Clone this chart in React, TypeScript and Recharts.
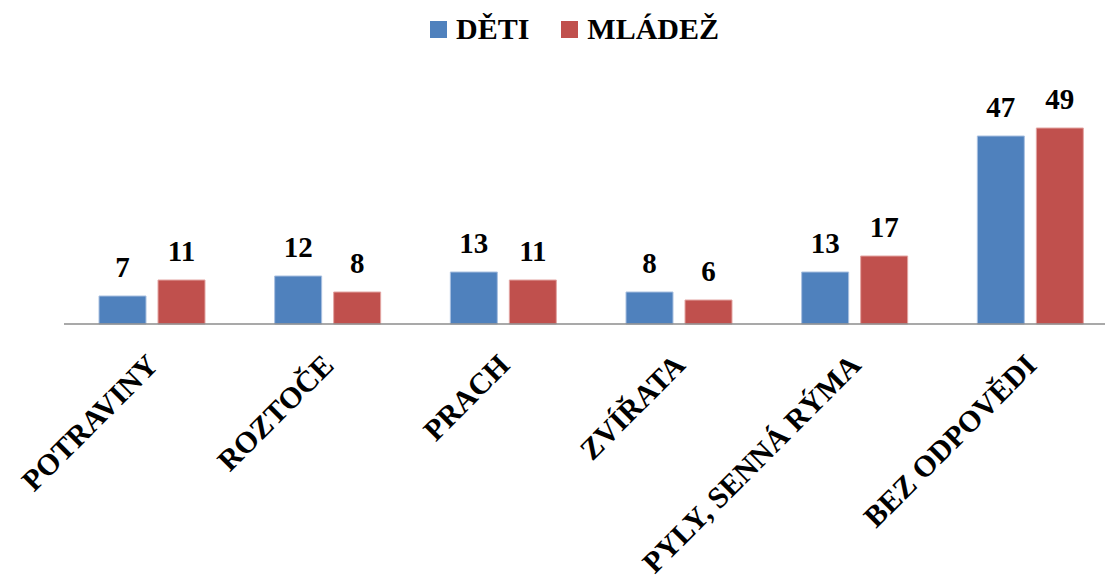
import { BarChart, Bar, XAxis, YAxis, LabelList } from "recharts";

const categories = ["POTRAVINY", "ROZTOČE", "PRACH", "ZVÍŘATA", "PYLY, SENNÁ RÝMA", "BEZ ODPOVĚDI"];
const deti = [7, 12, 13, 8, 13, 47];
const mladez = [11, 8, 11, 6, 17, 49];

const series = [
  { key: "deti", name: "DĚTI", color: "#4F81BD", edge: "#A9C0E0" },
  { key: "mladez", name: "MLÁDEŽ", color: "#C0504D", edge: "#E3A5A3" },
];

const data = categories.map((name, i) => ({ name, deti: deti[i], mladez: mladez[i] }));

const FONT = "'Liberation Serif'";

const CategoryTick = ({ x, y, payload }: any) => (
  <g transform={`translate(${x + 8},${y + 35})`}>
    <text
      textAnchor="end"
      transform="rotate(-45)"
      style={{ fontFamily: FONT, fontWeight: 700, fontSize: 30 }}
      fill="#000"
    >
      {payload.value}
    </text>
  </g>
);

const App = () => {
  return (
    <div style={{ position: "absolute", left: 0, top: 0, width: 1105, height: 582, overflow: "hidden", background: "#fff" }}>
      <div
        style={{
          position: "absolute",
          left: 430,
          top: 14,
          display: "flex",
          alignItems: "center",
          fontFamily: FONT,
          fontWeight: 700,
          fontSize: 30,
          lineHeight: "30px",
          color: "#000",
        }}
      >
        {series.map((s, i) => (
          <div key={s.key} style={{ display: "flex", alignItems: "center", marginRight: i === 0 ? 32 : 0 }}>
            <span style={{ display: "inline-block", width: 17, height: 17, background: s.color, marginRight: 9 }} />
            <span>{s.name}</span>
          </div>
        ))}
      </div>
      <div style={{ position: "absolute", left: 0, top: 0 }}>
        <BarChart
          width={1120}
          height={582}
          data={data}
          margin={{ top: 124, right: 2, bottom: 228, left: 64 }}
          barSize={47}
          barGap={12}
        >
          <XAxis
            dataKey="name"
            height={30}
            interval={0}
            tickLine={false}
            axisLine={{ stroke: "#8C8C8C", strokeWidth: 1.5 }}
            tick={<CategoryTick />}
          />
          <YAxis hide domain={[0, 50]} />
          {series.map((s) => (
            <Bar key={s.key} dataKey={s.key} name={s.name} fill={s.color} stroke={s.edge} strokeWidth={1} isAnimationActive={false}>
              <LabelList
                dataKey={s.key}
                position="top"
                offset={19}
                fill="#000"
                style={{ fontFamily: FONT, fontWeight: 700, fontSize: 29 }}
              />
            </Bar>
          ))}
        </BarChart>
      </div>
    </div>
  );
};

export default App;
